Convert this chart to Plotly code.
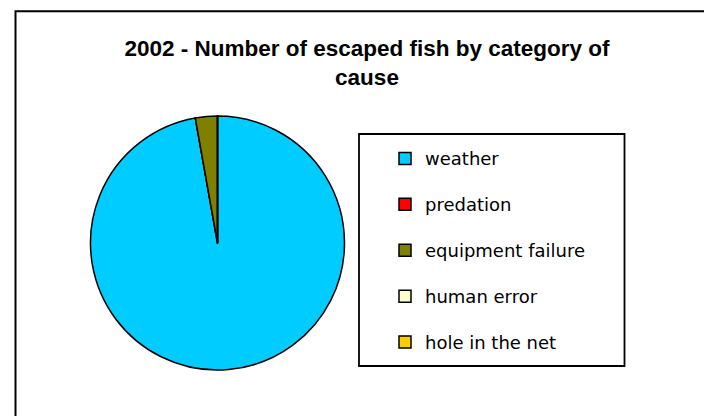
import plotly.graph_objects as go

# Escaped fish in 2002, by category of cause
causes = ["weather", "predation", "equipment failure", "human error", "hole in the net"]
fish_escaped = [486000, 0, 14000, 0, 0]
slice_colors = ["#00CCFF", "#FF0000", "#808000", "#FFFFCC", "#FFCC00"]

title_text = "2002 - Number of escaped fish by category of<br>cause"

W, H = 704, 416


def px_x(x):
    return x / W


def px_y(y):
    return 1 - y / H


# legend rows are spaced wide apart, so the legend font is large and the label text is sized down
legend_labels = [
    f'<span style="font-size:18px;baseline-shift:6px">{c}</span>' for c in causes
]

cx, cy, r = 217.5, 243, 127

fig = go.Figure(
    go.Pie(
        labels=legend_labels,
        values=fish_escaped,
        marker=dict(colors=slice_colors, line=dict(color="black", width=1.5)),
        sort=False,
        direction="clockwise",
        rotation=0,
        textinfo="none",
        hovertext=causes,
        hoverinfo="text+value+percent",
        domain=dict(x=[px_x(cx - r), px_x(cx + r)], y=[px_y(cy + r), px_y(cy - r)]),
        showlegend=True,
    )
)

fig.update_layout(
    width=W,
    height=H,
    margin=dict(l=0, r=0, t=0, b=0),
    paper_bgcolor="white",
    plot_bgcolor="white",
    title=dict(
        text=title_text,
        x=px_x(367),
        xanchor="center",
        y=px_y(56),
        yanchor="middle",
        font=dict(family="Liberation Sans, Arial, sans-serif", size=22.5, color="black", weight="bold"),
    ),
    legend=dict(
        x=px_x(385),
        xanchor="left",
        y=px_y(130.5),
        yanchor="top",
        bgcolor="rgba(0,0,0,0)",
        borderwidth=0,
        font=dict(family="DejaVu Sans, sans-serif", size=33, color="black"),
    ),
    shapes=[
        # chart frame
        dict(type="rect", xref="paper", yref="paper",
             x0=px_x(15.5), x1=1.2, y0=-0.2, y1=px_y(11.3),
             line=dict(color="black", width=2), fillcolor="rgba(0,0,0,0)", layer="above"),
        # legend frame
        dict(type="rect", xref="paper", yref="paper",
             x0=px_x(359), x1=px_x(624.5), y0=px_y(366), y1=px_y(134),
             line=dict(color="black", width=1.8), fillcolor="rgba(0,0,0,0)", layer="below"),
    ],
)

fig.write_html("out.html")
